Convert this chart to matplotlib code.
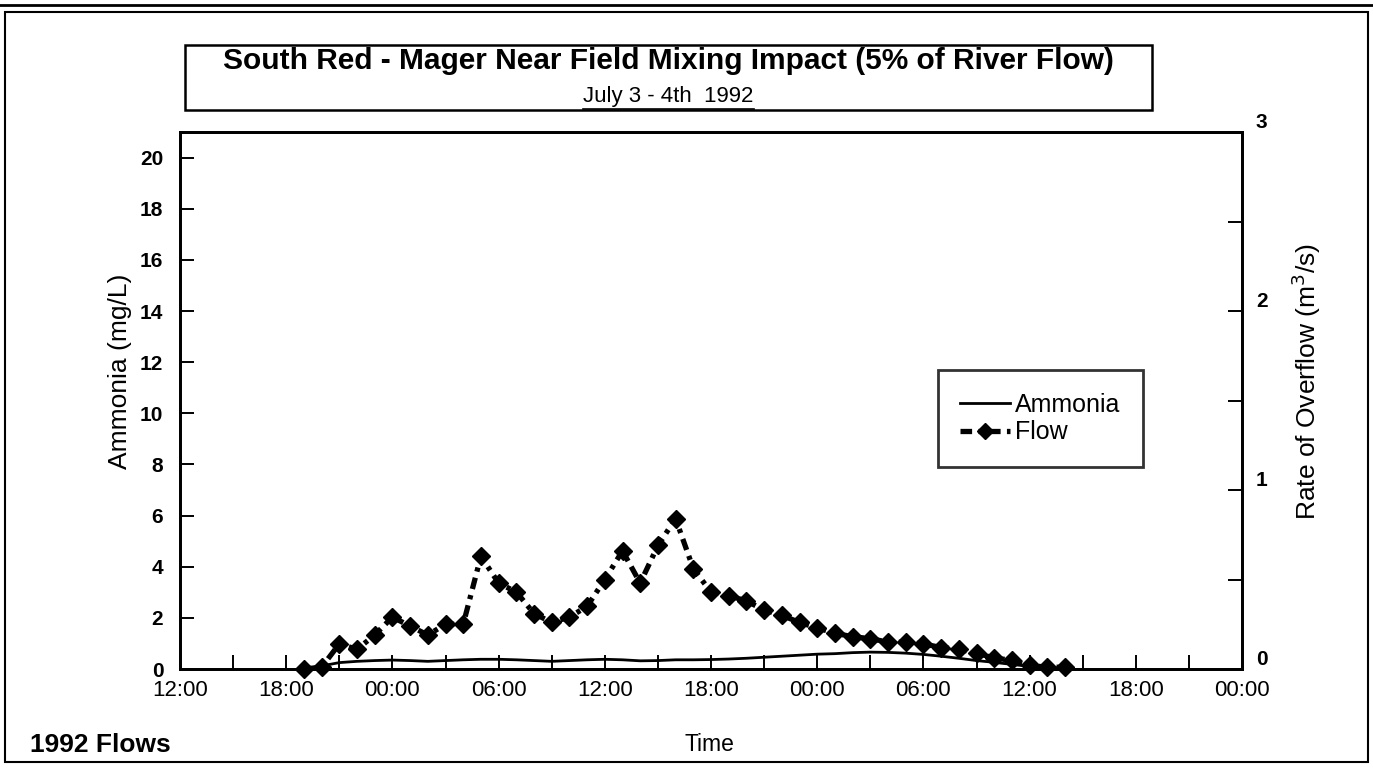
import numpy as np
import matplotlib.pyplot as plt
from matplotlib.patches import Rectangle
from matplotlib.lines import Line2D
from matplotlib.ticker import MultipleLocator

plt.rcParams['font.family'] = ['Liberation Sans', 'DejaVu Sans']

# hours after 12:00 on July 3
flow_hours = list(range(7, 51))
flow = [0.0, 0.01, 0.14, 0.11, 0.19, 0.29, 0.24, 0.19, 0.25, 0.25,
        0.63, 0.48, 0.43, 0.31, 0.26, 0.29, 0.35, 0.50, 0.66, 0.48,
        0.69, 0.84, 0.56, 0.43, 0.41, 0.38, 0.33, 0.30, 0.26, 0.23,
        0.20, 0.18, 0.17, 0.15, 0.15, 0.14, 0.12, 0.11, 0.09, 0.06,
        0.05, 0.02, 0.01, 0.01]

amm_hours = list(range(7, 51))
ammonia = [0.0, 0.12, 0.25, 0.30, 0.33, 0.35, 0.33, 0.30, 0.33, 0.36,
           0.38, 0.38, 0.36, 0.33, 0.30, 0.33, 0.36, 0.38, 0.36, 0.32,
           0.33, 0.36, 0.36, 0.37, 0.39, 0.42, 0.46, 0.50, 0.54, 0.58,
           0.60, 0.64, 0.66, 0.65, 0.62, 0.57, 0.50, 0.42, 0.33, 0.26,
           0.18, 0.10, 0.05, 0.02]

tick_hours = list(range(0, 61, 6))
tick_labels = ['12:00', '18:00', '00:00', '06:00', '12:00', '18:00',
               '00:00', '06:00', '12:00', '18:00', '00:00']

fig = plt.figure(figsize=(13.73, 7.68), dpi=100)

# outer frame + title box
fig.patches.append(Rectangle((0.004, 0.008), 0.992, 0.977, transform=fig.transFigure,
                             fill=False, lw=1.5, ec='black'))
fig.lines.append(Line2D([0, 1], [0.994, 0.994], transform=fig.transFigure, lw=2, color='black'))
fig.patches.append(Rectangle((0.135, 0.857), 0.704, 0.085, transform=fig.transFigure,
                             fill=False, lw=1.8, ec='black'))
fig.text(0.487, 0.920, 'South Red - Mager Near Field Mixing Impact (5% of River Flow)',
         ha='center', va='center', fontsize=21.5, fontweight='bold')
sub = fig.text(0.487, 0.874, 'July 3 - 4th  1992', ha='center', va='center', fontsize=16)

fig.canvas.draw()
bb = sub.get_window_extent().transformed(fig.transFigure.inverted())
fig.lines.append(Line2D([bb.x0, bb.x1], [bb.y0 - 0.002, bb.y0 - 0.002],
                        transform=fig.transFigure, lw=1.2, color='black'))

ax = fig.add_axes([0.1311, 0.1289, 0.7735, 0.6992])
ax2 = ax.twinx()

l1, = ax.plot(amm_hours, ammonia, color='black', lw=2)
l2, = ax2.plot(flow_hours, flow, color='black', lw=3.8, linestyle=(0, (2.2, 1.2, 0.8, 1.2)),
               marker='D', markersize=9.5, clip_on=False)

ax.set_xlim(0, 60)
ax.set_ylim(0, 21)
ax2.set_ylim(0, 3)
ax.set_xticks(tick_hours)
ax.set_xticklabels(tick_labels, fontsize=16)
ax.xaxis.set_minor_locator(MultipleLocator(3))
ax.set_yticks(range(0, 21, 2))
ax2.set_yticks([0, 1, 2, 3])
ax2.yaxis.set_minor_locator(MultipleLocator(0.5))

for a in (ax, ax2):
    for s in a.spines.values():
        s.set_linewidth(2)
ax.tick_params(axis='x', direction='in', length=10, width=1.4, pad=8)
ax.tick_params(axis='x', which='minor', direction='in', length=10, width=1.4)
ax.tick_params(axis='y', direction='in', length=10, width=1.4, labelsize=15, pad=12)
ax2.tick_params(axis='y', direction='in', length=10, width=1.4, labelsize=15, pad=10)
ax2.tick_params(axis='y', which='minor', direction='in', length=10, width=1.4)
for lab in ax.get_yticklabels():
    lab.set_fontweight('bold')
for lab in ax2.get_yticklabels():
    lab.set_fontweight('bold')
    lab.set_verticalalignment('bottom')

ax.set_ylabel('Ammonia (mg/L)', fontsize=19)
ax.yaxis.set_label_coords(-0.045, 0.555)
ax2.set_ylabel('Rate of Overflow (m$^3$/s)', fontsize=19)
ax2.yaxis.set_label_coords(1.045, 0.535)
fig.text(0.517, 0.030, 'Time', ha='center', va='center', fontsize=16.5)
fig.text(0.022, 0.030, '1992 Flows', ha='left', va='center', fontsize=19, fontweight='bold')

leg = fig.legend([l1, l2], ['Ammonia', 'Flow'], loc='upper left',
                 bbox_to_anchor=(0.683, 0.518), fontsize=18, frameon=True, fancybox=False,
                 handlelength=2.0, handletextpad=0.2, borderpad=0.9, labelspacing=0.15,
                 borderaxespad=0)
leg.get_frame().set_edgecolor('black')
leg.get_frame().set_linewidth(2)
for h in leg.legend_handles:
    h.set_markersize(8)

fig.savefig('out.png', dpi=100)
